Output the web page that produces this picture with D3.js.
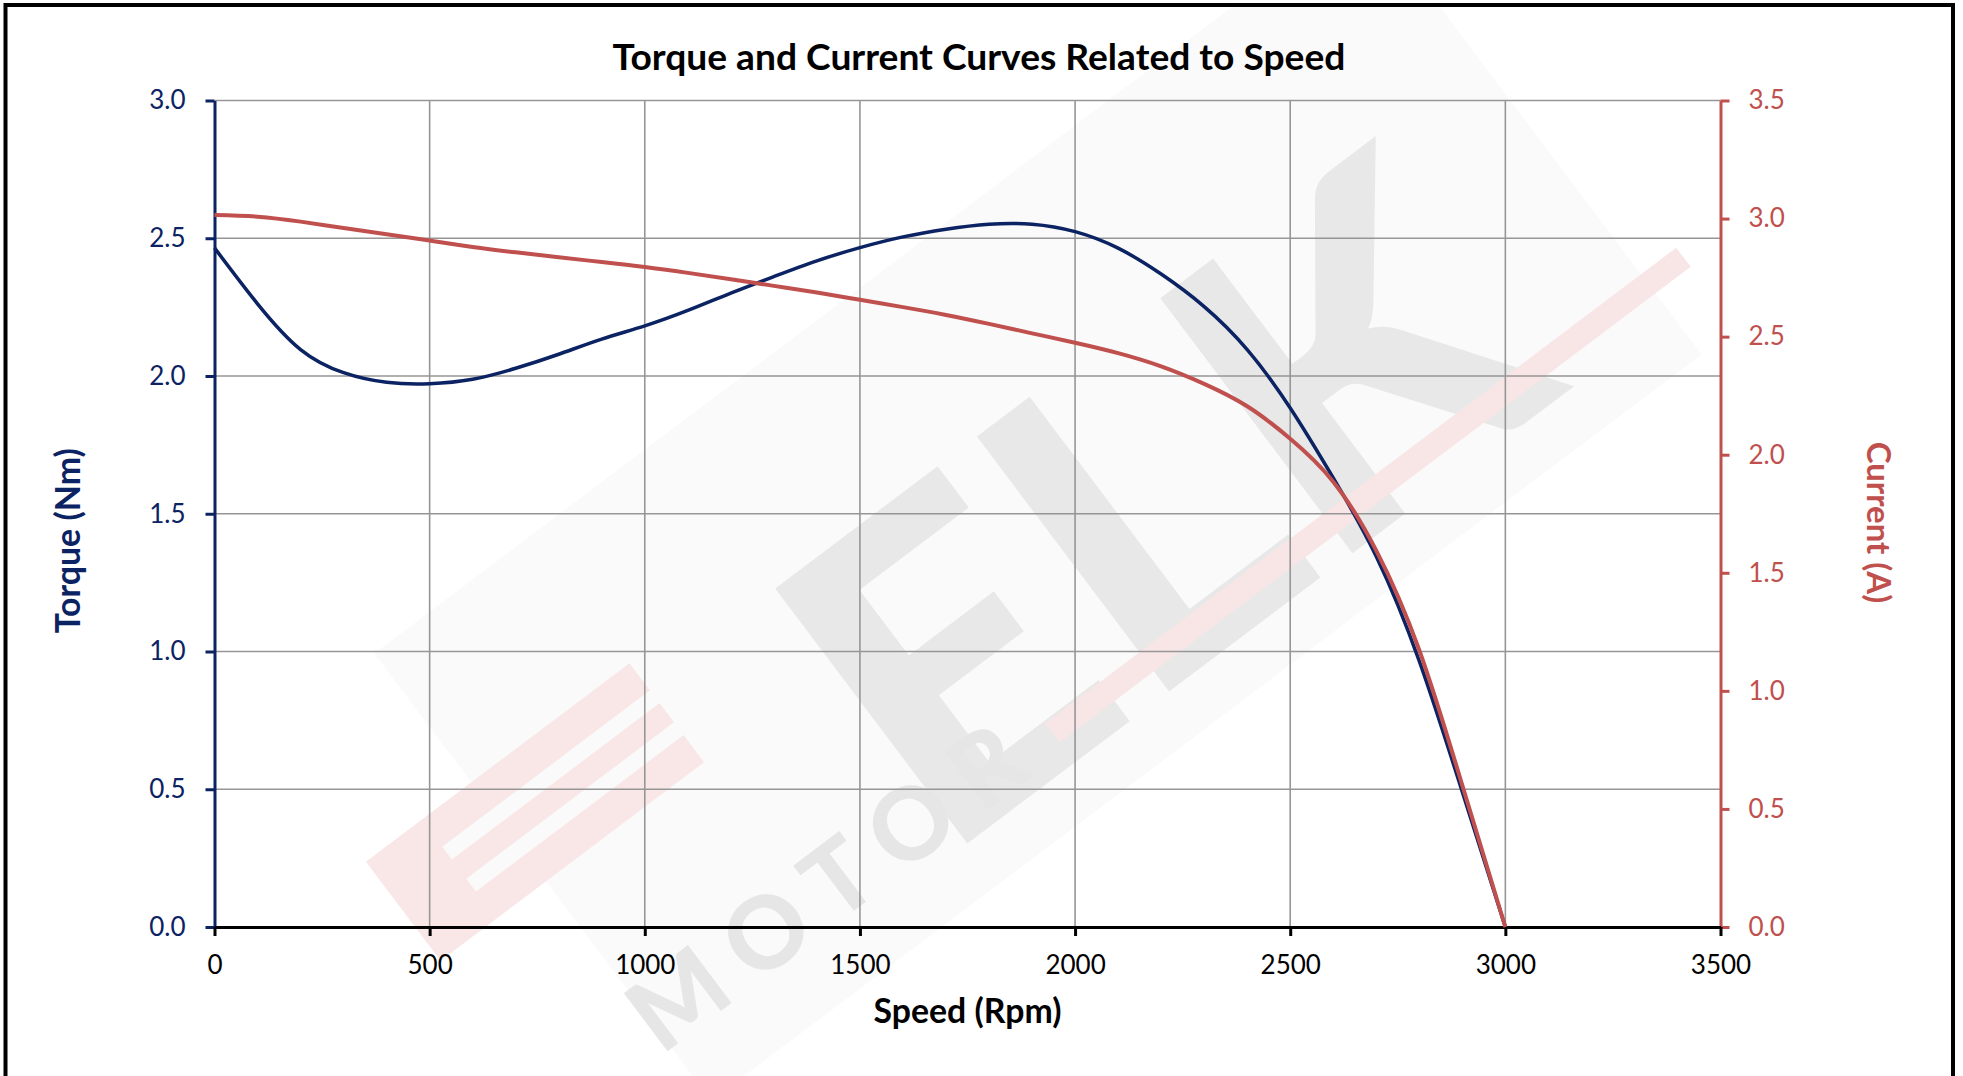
<!DOCTYPE html>
<html><head><meta charset="utf-8">
<script src="https://cdn.jsdelivr.net/npm/d3@7"></script>
<style>
body{margin:0;background:#fff}
svg{display:block}
text{font-family:Lato,"Open Sans",sans-serif}
</style></head>
<body><svg id="chart" width="1963" height="1076"></svg>
<script>
const titleText = "Torque and Current Curves Related to Speed";
const xTitle = "Speed (Rpm)";
const yLeftTitle = "Torque (Nm)";
const yRightTitle = "Current (A)";
const watermarkMain = "ELK";
const watermarkSub = "MOTOR";
const speeds = [0,100,200,300,400,500,600,700,800,900,1000,1100,1200,1300,1400,1500,1600,1700,1800,1900,2000,2100,2200,2300,2400,2500,2600,2700,2800,2900,3000];
const torque = [2.465,2.262,2.096,2.012,1.977,1.972,1.988,2.028,2.079,2.134,2.182,2.238,2.301,2.361,2.418,2.466,2.505,2.533,2.551,2.551,2.524,2.464,2.370,2.252,2.096,1.884,1.630,1.345,0.965,0.49,0];
const current = [3.015,3.008,2.987,2.960,2.934,2.907,2.880,2.857,2.836,2.816,2.795,2.770,2.743,2.715,2.687,2.656,2.625,2.592,2.554,2.514,2.474,2.430,2.374,2.300,2.205,2.068,1.886,1.594,1.172,0.60,0];
const xTicks = [0,500,1000,1500,2000,2500,3000,3500];
const torqueTicks = [0,0.5,1.0,1.5,2.0,2.5,3.0];
const currentTicks = [0,0.5,1.0,1.5,2.0,2.5,3.0,3.5];

const NAVY = "#0b2263", RED = "#c0504d", GRID = "#969696";
const svg = d3.select("#chart");
const L = 214.5, R = 1720.5, T = 100.5, B = 927;
const x = d3.scaleLinear().domain([0,3500]).range([L,R]);
const yT = d3.scaleLinear().domain([0,3]).range([B,T]);
const yC = d3.scaleLinear().domain([0,3.5]).range([B,T]);

// clip for decorative watermark (inside frame)
svg.append("defs").append("clipPath").attr("id","inner")
  .append("rect").attr("x",8).attr("y",7.5).attr("width",1943).attr("height",1070);

// watermark (decorative, behind the chart)
const wm = svg.append("g").attr("clip-path","url(#inner)");
wm.append("rect").attr("x",-620).attr("y",-300).attr("width",1240).attr("height",560)
  .attr("fill","#fafafa")
  .attr("transform","translate(1050,520) rotate(-37)");
const pinkE = wm.append("g").attr("transform","translate(535,812) rotate(-37)");
pinkE.append("rect").attr("x",-165).attr("y",-62).attr("width",330).attr("height",124).attr("fill","#f9e7e7");
pinkE.append("rect").attr("x",-95).attr("y",-28).attr("width",280).attr("height",16).attr("fill","#fafafa");
pinkE.append("rect").attr("x",-95).attr("y",12).attr("width",280).attr("height",16).attr("fill","#fafafa");
wm.append("text").text(watermarkMain).attr("text-anchor","middle").attr("dy","0.36em")
  .attr("font-weight",900).attr("font-size",440).attr("fill","#e8e8e8")
  .attr("transform","translate(1160,500) rotate(-37)");
wm.append("rect").attr("x",-395).attr("y",-12).attr("width",790).attr("height",24)
  .attr("fill","#f8e6e6")
  .attr("transform","translate(1368,495) rotate(-37)");
wm.append("text").text(watermarkSub).attr("text-anchor","middle").attr("dy","0.36em")
  .attr("font-weight",900).attr("font-size",100).attr("letter-spacing",22).attr("fill","#e6e6e6")
  .attr("transform","translate(835,880) rotate(-37)");

// frame
svg.append("rect").attr("x",5.5).attr("y",5).attr("width",1947.5).attr("height",1200)
  .attr("fill","none").attr("stroke","#000").attr("stroke-width",4);

// grid
const g = svg.append("g");
g.selectAll("line.h").data(torqueTicks.filter(d=>d>0)).join("line")
  .attr("x1",L).attr("x2",R).attr("y1",d=>yT(d)).attr("y2",d=>yT(d))
  .attr("stroke",GRID).attr("stroke-width",1.6);
g.selectAll("line.v").data(xTicks.filter(d=>d>0 && d<3500)).join("line")
  .attr("y1",T).attr("y2",B).attr("x1",d=>x(d)).attr("x2",d=>x(d))
  .attr("stroke",GRID).attr("stroke-width",1.6);

// axes
function styleAxis(sel, color, fs){
  sel.select(".domain").attr("stroke",color).attr("stroke-width",3);
  sel.selectAll(".tick line").attr("stroke",color).attr("stroke-width",3);
  sel.selectAll(".tick text").attr("fill",color).attr("font-size",fs).attr("font-family","Lato,sans-serif");
}
const ax = svg.append("g").attr("transform",`translate(0,${B})`)
  .call(d3.axisBottom(x).tickValues(xTicks).tickFormat(d3.format("d")).tickSizeInner(9).tickSizeOuter(0).tickPadding(20));
styleAxis(ax,"#000",26);
const axL = svg.append("g").attr("transform",`translate(${L},0)`)
  .call(d3.axisLeft(yT).tickValues(torqueTicks).tickFormat(d3.format(".1f")).tickSizeInner(9).tickSizeOuter(0).tickPadding(20));
styleAxis(axL,NAVY,26);
const axR = svg.append("g").attr("transform",`translate(${R},0)`)
  .call(d3.axisRight(yC).tickValues(currentTicks).tickFormat(d3.format(".1f")).tickSizeInner(9).tickSizeOuter(0).tickPadding(19));
styleAxis(axR,RED,26);
ax.raise();

// lines
const lineT = d3.line().x((d,i)=>x(speeds[i])).y(d=>yT(d)).curve(d3.curveNatural);
const lineC = d3.line().x((d,i)=>x(speeds[i])).y(d=>yC(d)).curve(d3.curveNatural);
svg.append("path").datum(torque).attr("d",lineT).attr("fill","none").attr("stroke",NAVY).attr("stroke-width",3.5);
svg.append("path").datum(current).attr("d",lineC).attr("fill","none").attr("stroke",RED).attr("stroke-width",4);

// titles fitted to measured widths
function fitText(sel, target, start){
  sel.attr("font-size",start);
  const w = sel.node().getComputedTextLength();
  sel.attr("font-size", start*target/w);
  return sel;
}
fitText(svg.append("text").text(titleText).attr("x",979).attr("y",70).attr("text-anchor","middle")
  .attr("font-weight",700).attr("fill","#000"), 733, 34);
fitText(svg.append("text").text(xTitle).attr("x",967.5).attr("y",1022.7).attr("text-anchor","middle")
  .attr("font-weight",700).attr("fill","#000"), 188, 32);
fitText(svg.append("text").text(yLeftTitle).attr("text-anchor","middle")
  .attr("transform","translate(80,540.7) rotate(-90)")
  .attr("font-weight",700).attr("fill",NAVY), 185, 32);
fitText(svg.append("text").text(yRightTitle).attr("text-anchor","middle")
  .attr("transform","translate(1866.7,522.5) rotate(90)")
  .attr("font-weight",700).attr("fill",RED), 161.7, 32);
</script>
</body></html>
